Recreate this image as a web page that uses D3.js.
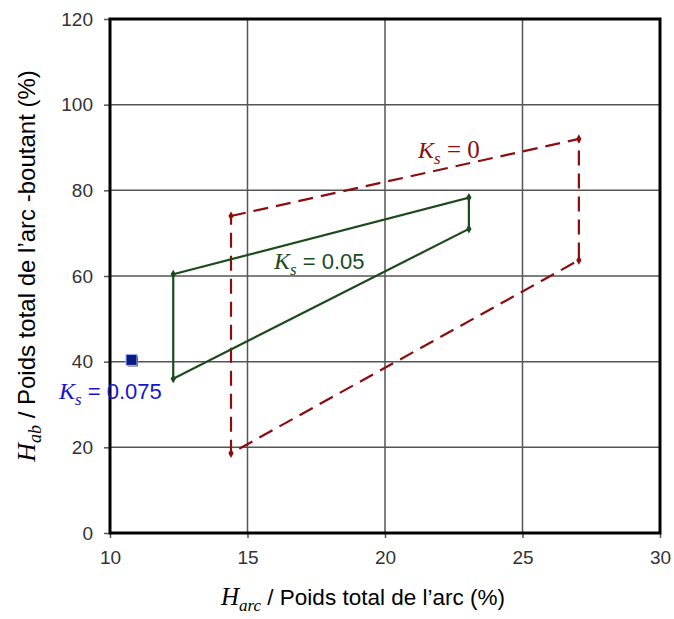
<!DOCTYPE html>
<html><head><meta charset="utf-8">
<script src="https://cdn.jsdelivr.net/npm/d3@7"></script>
<style>body{margin:0;background:#fff}</style>
</head><body>
<svg id="c" width="674" height="619"></svg>
<script>
const xTicks = [10, 15, 20, 25, 30];
const yTicks = [0, 20, 40, 60, 80, 100, 120];
const ks0X = [14.4, 27.05, 27.05, 14.4, 14.4];
const ks0Y = [74.0, 92.0, 63.7, 18.6, 74.0];
const ks005X = [12.3, 23.05, 23.05, 12.3, 12.3];
const ks005Y = [60.4, 78.3, 71.0, 36.0, 60.4];
const ks0075X = [10.8];
const ks0075Y = [40.3];

const svg = d3.select("#c");
const L = 110, R = 660, T = 19, B = 533;
const x = d3.scaleLinear().domain([10, 30]).range([L, R]);
const y = d3.scaleLinear().domain([0, 120]).range([B, T]);
const SANS = "Liberation Sans, Arial, sans-serif";
const SERIF = "Liberation Serif, Times New Roman, serif";

// grid
svg.append("g").selectAll("line").data(xTicks.slice(1, -1)).join("line")
  .attr("x1", d => x(d)).attr("x2", d => x(d)).attr("y1", T).attr("y2", B)
  .attr("stroke", "#555").attr("stroke-width", 1.5);
svg.append("g").selectAll("line").data(yTicks.slice(1, -1)).join("line")
  .attr("x1", L).attr("x2", R).attr("y1", d => y(d)).attr("y2", d => y(d))
  .attr("stroke", "#555").attr("stroke-width", 1.5);

// axes
const xa = svg.append("g").attr("transform", `translate(0,${B})`)
  .call(d3.axisBottom(x).tickValues(xTicks).tickSize(5).tickPadding(13));
const ya = svg.append("g").attr("transform", `translate(${L},0)`)
  .call(d3.axisLeft(y).tickValues(yTicks).tickSize(6).tickPadding(11));
[xa, ya].forEach(a => {
  a.select(".domain").remove();
  a.selectAll(".tick line").attr("stroke", "#555").attr("stroke-width", 1.5);
  a.selectAll("text").attr("font-family", SANS)
    .attr("font-size", 19).attr("fill", "#333");
});

// frame
svg.append("rect").attr("x", L).attr("y", T).attr("width", R - L).attr("height", B - T)
  .attr("fill", "none").attr("stroke", "#000").attr("stroke-width", 3);

const line = d3.line().x(d => x(d[0])).y(d => y(d[1]));
function series(xs, ys, color, dash) {
  const pts = xs.map((v, i) => [v, ys[i]]);
  svg.append("path").attr("d", line(pts)).attr("fill", "none")
    .attr("stroke", color).attr("stroke-width", 2.2)
    .attr("stroke-dasharray", dash || null);
  svg.append("g").selectAll("path").data(pts.slice(0, -1)).join("path")
    .attr("d", d3.symbol(d3.symbolDiamond, 24))
    .attr("transform", d => `translate(${x(d[0])},${y(d[1])})`)
    .attr("fill", color);
}
series(ks0X, ks0Y, "#8b0d0d", "15,8");
series(ks005X, ks005Y, "#1c4a1c");

// Ks = 0.075 square with shadow
const sq = ks0075X.map((v, i) => [v, ks0075Y[i]]);
svg.append("g").selectAll("rect.sh").data(sq).join("rect")
  .attr("x", d => x(d[0]) - 4).attr("y", d => y(d[1]) - 4).attr("width", 10).attr("height", 10)
  .attr("fill", "#222");
svg.append("g").selectAll("rect.m").data(sq).join("rect")
  .attr("x", d => x(d[0]) - 6).attr("y", d => y(d[1]) - 6).attr("width", 11).attr("height", 11)
  .attr("fill", "#0d1a80").attr("stroke", "#9ab8ff").attr("stroke-width", 1);

// labels
function ksLabel(px, py, rest, color, restSerif) {
  const t = svg.append("text").attr("x", px).attr("y", py).attr("fill", color).attr("font-size", 24);
  t.append("tspan").attr("font-family", SERIF).attr("font-style", "italic").text("K");
  t.append("tspan").attr("font-family", SERIF).attr("font-style", "italic")
    .attr("font-size", 17).attr("dy", 6).text("s");
  t.append("tspan").attr("dy", -6)
    .attr("font-family", restSerif ? SERIF : SANS)
    .attr("font-size", restSerif ? 25 : 22).text(rest);
}
ksLabel(418, 158, " = 0", "#8b0d0d", true);
ksLabel(274, 269, " = 0.05", "#1c4a1c", false);
ksLabel(59, 399, " = 0.075", "#1515d0", false);

// axis titles
const xt = svg.append("text").attr("x", 221).attr("y", 605).attr("fill", "#000");
xt.append("tspan").attr("font-family", SERIF).attr("font-style", "italic").attr("font-size", 25).text("H");
xt.append("tspan").attr("font-family", SERIF).attr("font-style", "italic").attr("font-size", 17).attr("dy", 6).text("arc");
xt.append("tspan").attr("font-family", SANS).attr("font-size", 22.5).attr("dy", -6).text(" / Poids total de l\u2019arc (%)");

const yt = svg.append("text").attr("transform", `translate(35,${266}) rotate(-90)`).attr("text-anchor", "middle").attr("fill", "#000");
yt.append("tspan").attr("font-family", SERIF).attr("font-style", "italic").attr("font-size", 26).text("H");
yt.append("tspan").attr("font-family", SERIF).attr("font-style", "italic").attr("font-size", 18).attr("dy", 6).text("ab");
yt.append("tspan").attr("font-family", SANS).attr("font-size", 24).attr("dy", -6).text(" / Poids total de l\u2019arc -boutant (%)");
</script>
</body></html>
